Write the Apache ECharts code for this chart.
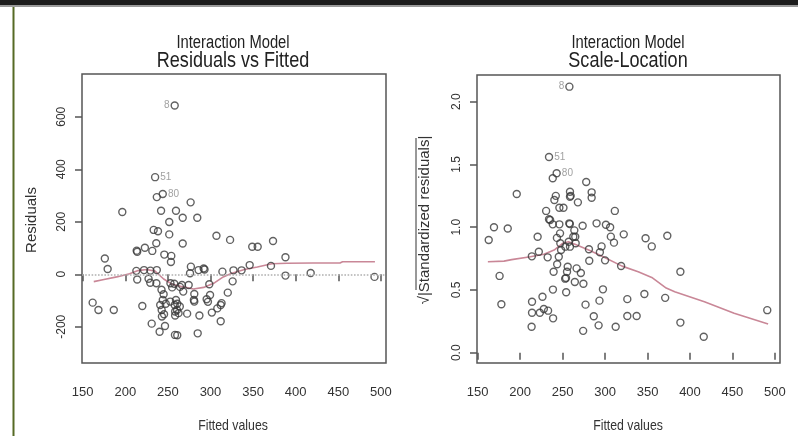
<!DOCTYPE html>
<html>
<head>
<meta charset="utf-8">
<script src="https://cdn.jsdelivr.net/npm/echarts@6/dist/echarts.min.js"></script>
<style>html,body{margin:0;padding:0;background:#fff}#c{width:798px;height:436px}</style>
</head>
<body>
<div id="c"></div>
<script>
// ---- Data ----
const xTicks = [150, 200, 250, 300, 350, 400, 450, 500];
const resTicks = [-200, 0, 200, 400, 600];
const slTicks = [0.0, 0.5, 1.0, 1.5, 2.0];

const resFitted = [258,235,237,244,196.5,242,259.5,276.7,267.4,284.5,251.6,233.3,238.4,251.6,267.4,236.4,223,213.4,214,231.7,245.8,254,253.6,176,179.3,307,323,349,355.4,373.4,388,277,276,286,292,293,314,327,336.5,346,371,388,417.6,492.5,161.7,168.5,186.5,220,213,214,222,229.5,237,227.3,229.3,236.5,242.5,245,244,247.5,241,242.7,245.5,243,231,240.3,246.6,253,255,257.5,264.2,266.5,274.4,268,252.8,259.5,258,261,264,258.5,260.7,262.5,258.5,258.3,261,272.6,281,280.5,281,285,287,295.5,297,299.5,298.6,301.6,308,312,313,312,320.3,326];
const resValues = [643,370,294,306,237,242,242,274,215.6,215.6,199,169,164,152,117,118,101,90,86,89,75,70,47,60,20,147,131,105,105,127,65,29,4,16,22,18,10,15,15,35,32,-5,5,-10,-108,-136,-136,-121,13,-20,16,14,16,-17,-32,-34,-59,-76,-98,-112,-117,-136,-152,-161,-188,-219,-197,-34,-50,-36,-48,-41,-41,-66,-104,-98,-117,-112,-123,-142,-136,-148,-157,-231,-232,-150,-75,-98,-104,-225,-157,-95,-105,-79,-38,-146,-130,-117,-110,-179,-70,-27];
const resLoessX = [163,175,190,205,215,225,235,245,255,265,280,292,305,315,325,340,355,372,390,420,452,455,493];
const resLoessY = [-28,-20,-10,2,14,18,12,-18,-38,-46,-56,-50,-32,-10,4,18,28,40,42,43,43,48,48];

const slFitted = [258,234,238.4,243,196,242,240.3,258.7,258.7,259.5,277.8,284.2,284.2,268,246.2,251,230.6,311.5,234,235.3,238.4,246.2,257.9,258.5,273.6,290,301,306,163,169.2,185.4,220.6,243.3,247,263.8,262.6,264.9,306.8,322,310.5,347.7,355,373.3,222,248.2,258.7,265.4,281,295.9,213.8,257.2,247.3,253.2,232.4,245.5,243.6,239.4,256,255.2,266.5,271.5,253,254,264.4,274.5,281.4,175.8,238.6,254.2,226.3,214,177.9,214,223.2,227.9,232.9,238.8,213.5,277,274.2,286.7,292.4,293.4,297.5,300,293.9,318.9,388.7,326.2,346.3,370.8,312.5,326.2,337.2,388.7,416.2,491];
const slValues = [2.12,1.56,1.39,1.43,1.265,1.25,1.217,1.283,1.243,1.25,1.36,1.278,1.235,1.198,1.155,1.155,1.13,1.13,1.063,1.057,1.023,1.023,1.031,1.025,1.012,1.031,1.02,1.0,0.898,1.0,0.99,0.924,0.915,0.951,0.975,0.924,0.924,0.925,0.943,0.877,0.912,0.847,0.932,0.805,0.818,0.845,0.872,0.824,0.847,0.768,0.884,0.872,0.845,0.76,0.765,0.705,0.645,0.685,0.645,0.672,0.635,0.59,0.595,0.563,0.55,0.733,0.612,0.503,0.482,0.446,0.406,0.386,0.318,0.319,0.348,0.335,0.274,0.207,0.383,0.174,0.29,0.218,0.415,0.505,0.736,0.8,0.691,0.645,0.427,0.468,0.437,0.207,0.293,0.293,0.24,0.127,0.339];
const slLoessX = [162,181,190,212,228,240,250,257,266,282,296,320,339,355,372,382,417,452,492];
const slLoessY = [0.725,0.73,0.742,0.765,0.785,0.818,0.872,0.885,0.86,0.815,0.77,0.69,0.645,0.6,0.515,0.486,0.406,0.314,0.229];

const labelIdx = [0, 1, 3];
const labelText = ['8', '51', '80'];
const labelSide = ['left', 'right', 'right'];

// ---- Chart ----
const REG = '"Liberation Sans", Arial, sans-serif';
const PT = '#3a3a3a';
const LOESS = '#c98797';
const SQ = 0.82; // horizontal squeeze of the reference picture

function points(xs, ys) {
  return xs.map((x, i) => {
    const k = labelIdx.indexOf(i);
    if (k < 0) return [x, ys[i]];
    return {
      value: [x, ys[i]],
      label: { show: true, formatter: labelText[k], position: labelSide[k], distance: 1,
               color: '#8a8a8a', fontSize: 10, fontFamily: REG }
    };
  });
}
function line(xs, ys) { return xs.map((x, i) => [x, ys[i]]); }

const tickStyle = { length: 7, lineStyle: { color: '#555', width: 1.5 } };
function xAxis(g) {
  return {
    gridIndex: g, type: 'value', min: 149.2, max: 506,
    axisLine: { show: false }, splitLine: { show: false },
    axisTick: Object.assign({ customValues: xTicks }, tickStyle),
    axisLabel: { customValues: xTicks, margin: 23, fontFamily: REG, fontSize: 13, color: '#333' }
  };
}
function htext(x, y, text, size, color) {
  return { type: 'text', x: x, y: y, scaleX: SQ,
           style: { text: text, font: size + 'px ' + REG, fill: color, align: 'center', verticalAlign: 'middle' } };
}

const chart = echarts.init(document.getElementById('c'), null, { renderer: 'canvas' });
chart.setOption({
  animation: false,
  backgroundColor: '#fff',
  grid: [
    { left: 82, top: 74, width: 304, height: 289, show: true, borderColor: '#555', borderWidth: 1.5 },
    { left: 477, top: 75, width: 303, height: 288, show: true, borderColor: '#555', borderWidth: 1.5 }
  ],
  xAxis: [xAxis(0), xAxis(1)],
  yAxis: [
    { gridIndex: 0, type: 'value', min: -338, max: 763,
      axisLine: { show: false }, splitLine: { show: false },
      axisTick: Object.assign({ customValues: resTicks }, tickStyle),
      axisLabel: { customValues: resTicks, rotate: 90, margin: 14, fontFamily: REG, fontSize: 12, color: '#333' } },
    { gridIndex: 1, type: 'value', min: -0.082, max: 2.213,
      axisLine: { show: false }, splitLine: { show: false },
      axisTick: Object.assign({ customValues: slTicks }, tickStyle),
      axisLabel: { customValues: slTicks, rotate: 90, margin: 14, fontFamily: REG, fontSize: 12, color: '#333',
                   formatter: v => Number(v).toFixed(1) } }
  ],
  series: [
    { type: 'line', xAxisIndex: 0, yAxisIndex: 0, data: line(resLoessX, resLoessY), showSymbol: false,
      lineStyle: { color: LOESS, width: 1.6 }, z: 2, silent: true,
      markLine: { silent: true, symbol: ['none', 'none'], label: { show: false },
                  lineStyle: { type: 'dotted', color: '#b0b0b0', width: 1.6 }, data: [{ yAxis: 0 }] } },
    { type: 'scatter', xAxisIndex: 0, yAxisIndex: 0, data: points(resFitted, resValues), symbol: 'circle', symbolSize: 7,
      itemStyle: { color: 'rgba(0,0,0,0)', borderColor: PT, borderWidth: 1.4 }, z: 3 },
    { type: 'line', xAxisIndex: 1, yAxisIndex: 1, data: line(slLoessX, slLoessY), showSymbol: false,
      lineStyle: { color: LOESS, width: 1.6 }, z: 2, silent: true },
    { type: 'scatter', xAxisIndex: 1, yAxisIndex: 1, data: points(slFitted, slValues), symbol: 'circle', symbolSize: 7,
      itemStyle: { color: 'rgba(0,0,0,0)', borderColor: PT, borderWidth: 1.4 }, z: 3 }
  ],
  graphic: [
    { type: 'rect', shape: { x: 0, y: 0, width: 798, height: 5 }, style: { fill: '#1c1c1c' } },
    { type: 'rect', shape: { x: 0, y: 5, width: 798, height: 2 }, style: { fill: '#9a9a9a' } },
    { type: 'rect', shape: { x: 12.5, y: 7, width: 2, height: 429 }, style: { fill: '#566a25' } },
    htext(233, 43, 'Interaction Model', 18, '#222'),
    htext(233, 61, 'Residuals vs Fitted', 22, '#222'),
    htext(628, 43, 'Interaction Model', 18, '#222'),
    htext(628, 61, 'Scale-Location', 22, '#222'),
    htext(233, 426, 'Fitted values', 15, '#333'),
    htext(628, 426, 'Fitted values', 15, '#333'),
    { type: 'text', x: 32, y: 220, rotation: Math.PI / 2, style: { text: 'Residuals', font: '15px ' + REG, fill: '#333', align: 'center', verticalAlign: 'middle' } },
    { type: 'text', x: 425, y: 220, rotation: Math.PI / 2, style: { text: '\u221A|Standardized residuals|', font: '15px ' + REG, fill: '#333', align: 'center', verticalAlign: 'middle' } },
    { type: 'line', shape: { x1: 416, y1: 138, x2: 416, y2: 290 }, style: { stroke: '#333', lineWidth: 1 } }
  ]
});
</script>
</body>
</html>
